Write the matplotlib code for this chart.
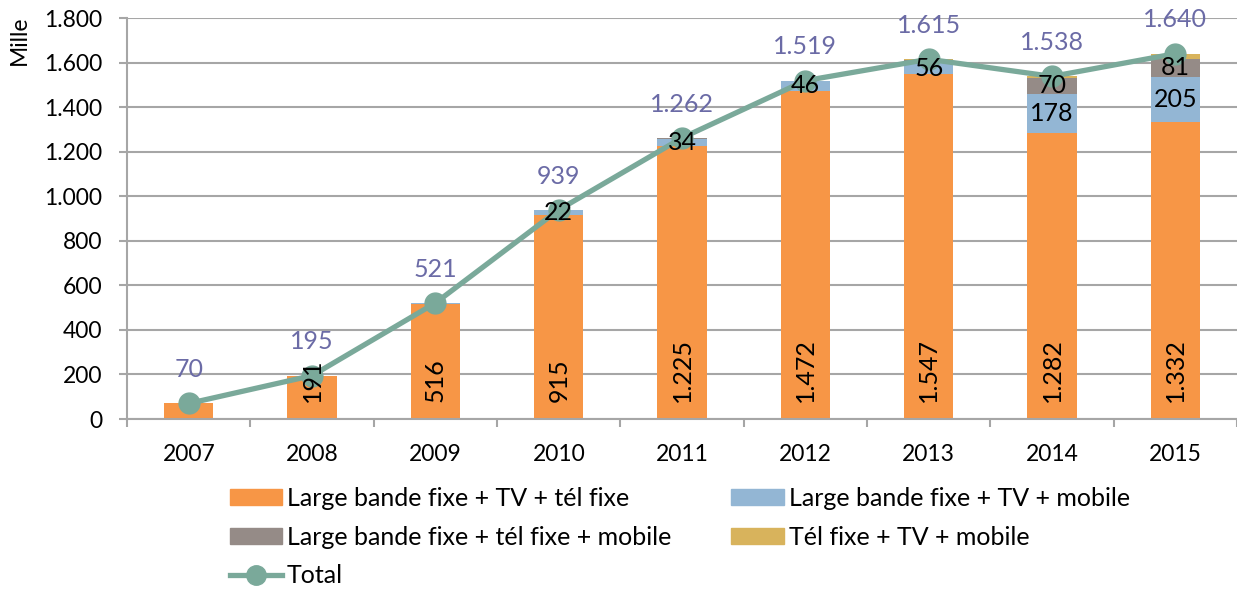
import numpy as np
import matplotlib
matplotlib.use("Agg")
from matplotlib import pyplot as plt
from matplotlib.lines import Line2D
from matplotlib.patches import Patch

plt.rcParams['font.family'] = ['Lato', 'DejaVu Sans']

years = ["2007", "2008", "2009", "2010", "2011", "2012", "2013", "2014", "2015"]
bb_tv_fixe = [70, 191, 516, 915, 1225, 1472, 1547, 1282, 1332]
bb_tv_mobile = [0, 4, 5, 22, 34, 46, 56, 178, 205]
bb_fixe_mobile = [0, 0, 0, 1, 2, 1, 8, 70, 81]
fixe_tv_mobile = [0, 0, 0, 1, 1, 0, 4, 8, 22]
total = [70, 195, 521, 939, 1262, 1519, 1615, 1538, 1640]

series_names = ["Large bande fixe + TV + tél fixe", "Large bande fixe + TV + mobile",
                "Large bande fixe + tél fixe + mobile", "Tél fixe + TV + mobile"]
colors = ["#f79646", "#93b6d4", "#958b87", "#d8b35c"]
line_color = "#7aa99a"
total_color = "#6b6ba6"
grid_color = "#a6a6a6"


def fmt(v):
    return "{:,}".format(v).replace(",", ".")


fig = plt.figure(figsize=(12.37, 5.89), dpi=100)
ax = fig.add_axes([0.1028, 0.2886, 0.8972, 0.6808])

x = np.arange(len(years))
w = 0.4
bottom = np.zeros(len(years))
data = [bb_tv_fixe, bb_tv_mobile, bb_fixe_mobile, fixe_tv_mobile]
bars = []
for vals, c in zip(data, colors):
    ax.bar(x, vals, w, bottom=bottom, color=c, zorder=2)
    bars.append((vals, bottom.copy()))
    bottom += np.array(vals)

ax.plot(x, total, color=line_color, lw=3.8, marker="o", ms=15, zorder=3)

# orange labels, inside base, rotated
for i, v in enumerate(bb_tv_fixe):
    if i == 0:
        continue
    ax.annotate(fmt(v), (x[i], 0), xytext=(0, 12), textcoords="offset points",
                rotation=90, ha="center", va="bottom", fontsize=18, zorder=5)

# blue and gray segment labels
for k in (1, 2):
    vals, bot = bars[k]
    for i, v in enumerate(vals):
        if v >= 20:
            ax.text(x[i], bot[i] + v / 2, fmt(v), ha="center", va="center",
                    fontsize=18, zorder=5)

# total labels
for i, v in enumerate(total):
    ax.annotate(fmt(v), (x[i], v), xytext=(0, 16), textcoords="offset points",
                ha="center", va="bottom", fontsize=18, color=total_color,
                zorder=5, annotation_clip=False)

ax.set_xlim(-0.5, len(years) - 0.5)
ax.set_ylim(0, 1800)
ax.set_yticks(np.arange(0, 1801, 200))
ax.set_yticklabels([fmt(v) for v in range(0, 1801, 200)], fontsize=16.5)
ax.set_xticks(x)
ax.set_xticklabels(years, fontsize=16.5)
ax.set_xticks(np.arange(-0.5, len(years)), minor=True)
ax.tick_params(axis="x", which="major", length=0, pad=18)
ax.tick_params(axis="x", which="minor", length=6, color=grid_color, width=1.5)
ax.tick_params(axis="y", length=6, color=grid_color, width=1.5, pad=12)
ax.yaxis.grid(True, color=grid_color, lw=1.5, zorder=0)
ax.set_axisbelow(True)
for s in ("top", "right"):
    ax.spines[s].set_visible(False)
for s in ("left", "bottom"):
    ax.spines[s].set_color(grid_color)
    ax.spines[s].set_linewidth(1.5)
ax.set_ylabel("Mille", fontsize=16.5)
ax.yaxis.set_label_coords(-0.088, 0.945)

handles = [Patch(color=c) for c in colors]
line_h = Line2D([], [], color=line_color, lw=3.8, marker="o", ms=14)
order = [handles[0], handles[2], line_h, handles[1], handles[3]]
labels = [series_names[0], series_names[2], "Total", series_names[1], series_names[3]]
fig.legend(order, labels, ncol=2, loc="upper left", bbox_to_anchor=(0.1755, 0.194),
           frameon=False, fontsize=18, handlelength=2.1, handleheight=0.6,
           handletextpad=0.2, columnspacing=2.4, labelspacing=0.62, borderpad=0)

fig.savefig("out.png", dpi=100)
